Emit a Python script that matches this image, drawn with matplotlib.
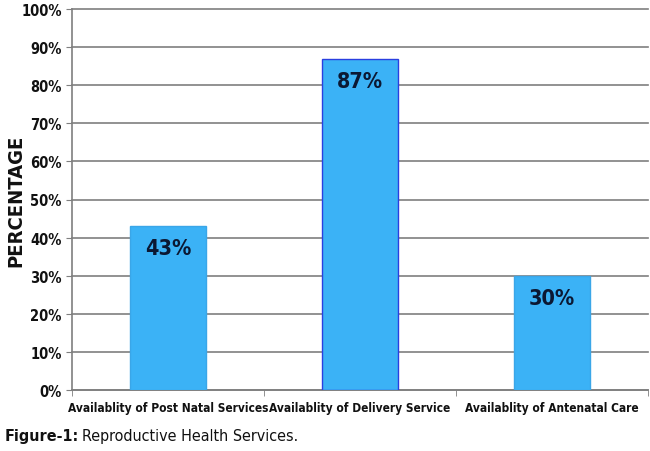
import matplotlib
matplotlib.use("Agg")
import matplotlib.pyplot as plt
from matplotlib.ticker import PercentFormatter

categories = ["Availablity of Post Natal Services", "Availablity of Delivery Service", "Availablity of Antenatal Care"]
values = [43, 87, 30]
labels = ["43%", "87%", "30%"]
yticks = [0, 10, 20, 30, 40, 50, 60, 70, 80, 90, 100]

plt.rcParams['font.family'] = ["DejaVu Sans"]
plt.rcParams['font.stretch'] = "condensed"

fig = plt.figure(figsize=(6.5, 4.52), dpi=100)
ax = fig.add_axes([72/650, (452-391)/452, (648-72)/650, (391-10)/452])

x = list(range(len(categories)))
edgecols = ["#3aa6e8", "#2a3fe0", "#3aa6e8"]
ax.bar(x, values, width=0.4, color="#3bb2f6", edgecolor=edgecols, linewidth=1, zorder=3)
for xi, v, lab in zip(x, values, labels):
    ax.text(xi, v - 5.8, lab, ha="center", va="center", fontsize=15.5, fontweight="bold",
            color="#0b1833", zorder=4)

ax.set_xlim(-0.5, 2.5)
ax.set_ylim(0, 100)
ax.set_yticks(yticks)
ax.yaxis.set_major_formatter(PercentFormatter(decimals=0))
ax.grid(axis="y", color="#7f7f7f", linewidth=1.2, zorder=0)
for gl in ax.get_ygridlines():
    gl.set_clip_on(False)
ax.set_xticks(x)
ax.set_xticklabels(categories)
ax.set_xticks([-0.5, 0.5, 1.5, 2.5], minor=True)
ax.tick_params(axis="x", which="major", length=0, pad=8, labelsize=8.6)
ax.tick_params(axis="x", which="minor", length=4, color="#7f7f7f")
ax.tick_params(axis="y", length=4, color="#7f7f7f", labelsize=10.5)
for t in ax.get_xticklabels() + ax.get_yticklabels():
    t.set_fontweight("bold")
    t.set_color("#111111")
for s in ["top", "right"]:
    ax.spines[s].set_visible(False)
for s in ["left", "bottom"]:
    ax.spines[s].set_color("#7f7f7f")
    ax.spines[s].set_linewidth(1.2)

ax.set_ylabel("PERCENTAGE", fontsize=14.5, fontweight="bold", color="#111111")
ax.yaxis.set_label_coords((25 - 72) / 576, 0.5)

cap_y = 1 - 437/452
t1 = fig.text(5/650, cap_y, "Figure-1:", fontsize=11.5, fontweight="bold", va="center", ha="left", color="#111111")
fig.canvas.draw()
bb = t1.get_window_extent()
fig.text((bb.x1 + 3) / 650, cap_y, "Reproductive Health Services.", fontsize=11.5, va="center", ha="left", color="#111111")

fig.savefig("out.png", dpi=100)
